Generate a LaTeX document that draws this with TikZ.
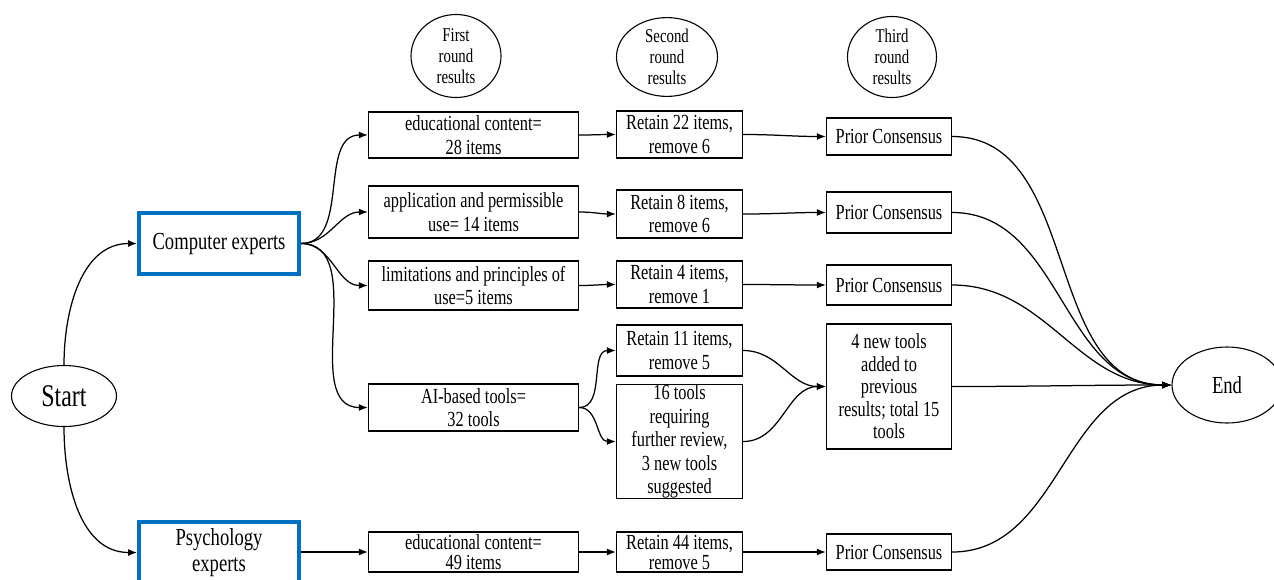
\documentclass[tikz,border=0pt]{standalone}
\usepackage{fontspec}
\setmainfont{Liberation Serif}[FakeStretch=0.76]
\usetikzlibrary{shapes.geometric,arrows.meta}
\definecolor{wblue}{RGB}{0,112,192}
\begin{document}
\begin{tikzpicture}[x=1pt,y=-1pt,
  box/.style={draw, line width=1.4pt, align=center, inner sep=0pt, font=\fontsize{21.5}{23.5}\selectfont},
  col1/.style={box, minimum width=210pt},
  col2/.style={box, minimum width=126pt},
  col3/.style={box, minimum width=125pt},
  ebox/.style={draw, line width=1.1pt, ellipse, inner sep=0pt, align=center, font=\fontsize{19.5}{21}\selectfont},
  expert/.style={draw=wblue, line width=4pt, align=center, inner sep=0pt, minimum width=160pt, minimum height=61pt, font=\fontsize{24.5}{26}\selectfont},
  conn/.style={line width=1.25pt, -{Latex[length=9pt,width=7pt]}},
  plainc/.style={line width=1.1pt}
]
\useasboundingbox (0,0) rectangle (1274,579);
\begin{scope}
\clip (0,0) rectangle (1274,579);
% round headers
\node[ebox, minimum width=90pt, minimum height=83pt] (r1) at (456,56) {First\\round\\results};
\node[ebox, minimum width=101pt, minimum height=78pt] (r2) at (667,57) {Second\\round\\results};
\node[ebox, minimum width=89pt, minimum height=81pt] (r3) at (892,57) {Third\\round\\results};

% start / end
\node[draw, ellipse, line width=1.1pt, inner sep=0pt, minimum width=105pt, minimum height=61pt, font=\fontsize{31.5}{33}\selectfont] (start) at (64,396) {Start};
\node[draw, ellipse, line width=1.1pt, inner sep=0pt, minimum width=110pt, minimum height=76pt, font=\fontsize{24.5}{26}\selectfont] (end) at (1227,385) {End};

% experts
\node[expert] (ce) at (219,243.5) {Computer experts};
\node[expert] (pe) at (219,552.5) {Psychology\\experts};

% column 1
\node[col1, minimum height=46pt] (a1) at (473.5,135) {educational content=\\28 items};
\node[col1, minimum height=52pt] (a2) at (473.5,212) {application and permissible\\use= 14 items};
\node[col1, minimum height=49pt] (a3) at (473.5,285.5) {limitations and principles of\\use=5 items};
\node[col1, minimum height=47pt] (a4) at (473.5,407.5) {AI-based tools=\\32 tools};
\node[col1, minimum height=40pt, font=\fontsize{21.5}{20}\selectfont] (a5) at (473.5,552) {educational content=\\49 items};

% column 2
\node[col2, minimum height=47pt] (b1) at (679.5,134.5) {Retain 22 items,\\remove 6};
\node[col2, minimum height=48pt] (b2) at (679.5,214) {Retain 8 items,\\remove 6};
\node[col2, minimum height=47pt] (b3) at (679.5,284.5) {Retain 4 items,\\remove 1};
\node[col2, minimum height=51pt] (b4) at (679.5,350.5) {Retain 11 items,\\remove 5};
\node[col2, minimum height=113pt] (b5) at (679.5,441.5) {16 tools\\requiring\\further review,\\3 new tools\\suggested};
\node[col2, minimum height=40pt, font=\fontsize{21.5}{20}\selectfont] (b6) at (679.5,552) {Retain 44 items,\\remove 5};

% column 3
\node[col3, minimum height=37pt] (c1) at (889,136.5) {Prior Consensus};
\node[col3, minimum height=41pt] (c2) at (889,212.5) {Prior Consensus};
\node[col3, minimum height=40pt] (c3) at (889,285) {Prior Consensus};
\node[col3, minimum height=125pt, font=\fontsize{21.5}{22.5}\selectfont] (c4) at (889,386.5) {4 new tools\\added to\\previous\\results; total 15\\tools};
\node[col3, minimum height=36pt] (c5) at (889,552) {Prior Consensus};

% start connectors
\draw[conn] (start.north) to[out=90,in=180] (ce.west);
\draw[conn] (start.south) to[out=-90,in=180] (pe.west);

% computer experts fan
\coordinate (cefan) at (ce.east);
\draw[conn] (cefan) to[out=0,in=180] (a1.west);
\draw[conn] (cefan) to[out=0,in=180] (a2.west);
\draw[conn] (cefan) to[out=0,in=180] (a3.west);
\draw[conn] (cefan) to[out=0,in=180] (a4.west);
\draw[conn] (pe.east |- a5.west) -- (a5.west);

% column 1 -> 2
\draw[conn] (a1.east) to[out=0,in=180] (b1.west);
\draw[conn] (a2.east) to[out=0,in=180] (b2.west);
\draw[conn] (a3.east) to[out=0,in=180] (b3.west);
\draw[conn] (a4.east) to[out=0,in=180] (b4.west);
\draw[conn] (a4.east) to[out=0,in=180] (b5.west);
\draw[conn] (a5.east) -- (b6.west);

% column 2 -> 3
\draw[conn] (b1.east) to[out=0,in=180] (c1.west);
\draw[conn] (b2.east) to[out=0,in=180] (c2.west);
\draw[conn] (b3.east) to[out=0,in=180] (c3.west);
\draw[conn] (b4.east) to[out=0,in=180] (c4.west);
\draw[conn] (b5.east) to[out=0,in=180] (c4.west);
\draw[conn] (b6.east) -- (c5.west);

% column 3 -> end
\draw[conn] (c1.east) to[out=0,in=180] (end.west);
\draw[conn] (c2.east) to[out=0,in=180] (end.west);
\draw[conn] (c3.east) to[out=0,in=180] (end.west);
\draw[conn] (c4.east) to[out=0,in=180] (end.west);
\draw[conn] (c5.east) to[out=0,in=180] (end.west);
\end{scope}
\end{tikzpicture}
\end{document}
